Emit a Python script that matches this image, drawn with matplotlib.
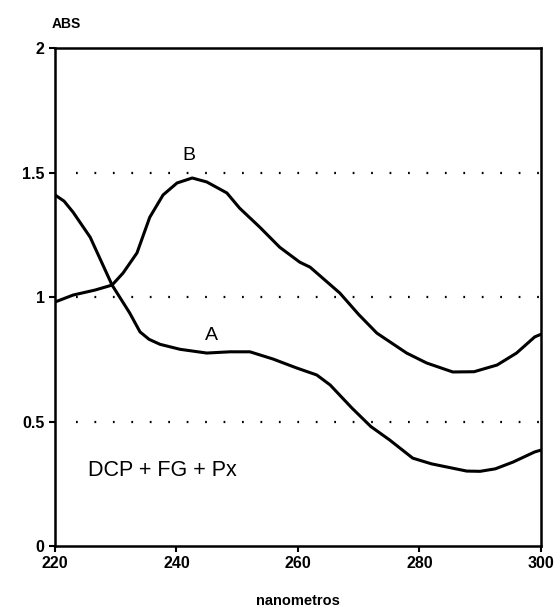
import matplotlib.pyplot as plt

plt.rcParams['font.family'] = ['Liberation Sans', 'DejaVu Sans']

# Curva A (nm, absorbancia)
nm_a = [220, 221.5, 223, 225.8, 229.4, 232.3, 234, 235.5, 237.3, 240.6, 245, 248.8,
        252.1, 255.9, 259.8, 263.1, 265.3, 268.9, 272, 275.1, 278.9, 282, 285, 287.8,
        290, 292.5, 295.4, 299, 300]
abs_a = [1.41, 1.385, 1.34, 1.24, 1.048, 0.936, 0.86, 0.83, 0.81, 0.79, 0.775, 0.78,
         0.78, 0.751, 0.715, 0.687, 0.647, 0.554, 0.48, 0.426, 0.353, 0.33, 0.315,
         0.301, 0.30, 0.31, 0.337, 0.378, 0.385]

# Curva B
nm_b = [220, 223, 226.6, 229.4, 231.2, 233.5, 235.6, 237.8, 240.1, 242.6, 245, 248.3,
        250.4, 253.7, 257, 260.3, 262, 266.9, 270, 273, 277.9, 281.2, 285.5, 289,
        292.8, 296, 299, 300]
abs_b = [0.98, 1.008, 1.028, 1.048, 1.096, 1.177, 1.32, 1.41, 1.458, 1.478, 1.462, 1.418,
         1.357, 1.281, 1.20, 1.14, 1.12, 1.016, 0.93, 0.855, 0.775, 0.735, 0.699, 0.70,
         0.727, 0.775, 0.84, 0.85]

niveles = [0.5, 1.0, 1.5]
yticks = [0, 0.5, 1, 1.5, 2]
ytick_labels = ['0', '0.5', '1', '1.5', '2']
xticks = [220, 240, 260, 280, 300]

fig = plt.figure(figsize=(5.57, 6.14), dpi=100)
ax = fig.add_axes([0.0987, 0.1107, 0.8723, 0.8111])

# Lineas punteadas de referencia
for y in niveles:
    ax.plot([223.5, 300], [y, y], color='black', linestyle=(0, (0.8, 7.5)), linewidth=1.6)

for xs, ys in [(nm_a, abs_a), (nm_b, abs_b)]:
    ax.plot(xs, ys, color='black', linewidth=2.2, solid_joinstyle='round',
            solid_capstyle='round')

ax.text(242, 1.535, 'B', fontsize=14, ha='center', va='bottom')
ax.text(245.7, 0.81, 'A', fontsize=14, ha='center', va='bottom')
ax.text(225.5, 0.305, 'DCP + FG + Px', fontsize=15.5, ha='left', va='center')

ax.set_xlim(220, 300)
ax.set_ylim(0, 2)
ax.set_xticks(xticks)
ax.set_yticks(yticks)
ax.set_yticklabels(ytick_labels)
ax.tick_params(axis='both', direction='out', length=4, width=1.5, labelsize=11.5)
for lab in ax.get_xticklabels() + ax.get_yticklabels():
    lab.set_fontweight('bold')
for s in ax.spines.values():
    s.set_linewidth(1.8)

ax.set_xlabel('nanometros', fontsize=10.5, fontweight='bold', labelpad=16)
fig.text(0.093, 0.955, 'ABS', fontsize=10, fontweight='bold')

fig.savefig('out.png', dpi=100)
